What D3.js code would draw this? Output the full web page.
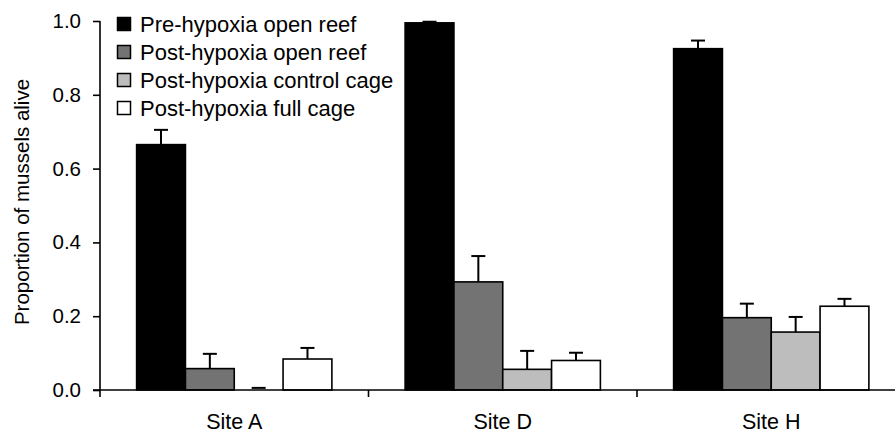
<!DOCTYPE html>
<html><head><meta charset="utf-8">
<script src="https://cdn.jsdelivr.net/npm/d3@7"></script>
<style>body{margin:0;background:#fff}svg{display:block}text{font-family:"Liberation Sans",Arial,sans-serif;fill:#000}</style>
</head><body>
<svg id="c" width="895" height="433"></svg>
<script>
const sites = ["Site A", "Site D", "Site H"];
const seriesNames = ["Pre-hypoxia open reef", "Post-hypoxia open reef", "Post-hypoxia control cage", "Post-hypoxia full cage"];
const seriesColors = ["#000000", "#737373", "#bdbdbd", "#ffffff"];
const preOpen = [0.665, 0.995, 0.925];
const preOpenErr = [0.04, 0.003, 0.022];
const postOpen = [0.058, 0.293, 0.196];
const postOpenErr = [0.040, 0.070, 0.038];
const postControl = [0.003, 0.056, 0.157];
const postControlErr = [0, 0.050, 0.041];
const postFull = [0.084, 0.080, 0.227];
const postFullErr = [0.030, 0.021, 0.020];
const yTicks = [0, 0.2, 0.4, 0.6, 0.8, 1.0];

const values = [preOpen, postOpen, postControl, postFull];
const errs = [preOpenErr, postOpenErr, postControlErr, postFullErr];

const svg = d3.select("#c");
const x0 = 100, yBase = 390;
const y = d3.scaleLinear().domain([0, 1]).range([yBase, 21]);
const x = d3.scaleBand().domain(sites).range([x0, 905.5]).padding(0);
const xs = d3.scaleBand().domain(d3.range(4)).range([0, x.bandwidth()]).paddingInner(0).paddingOuter(0.75);

// bars
const g = svg.append("g");
sites.forEach((s, i) => {
  values.forEach((vals, k) => {
    const bx = x(s) + xs(k), bw = xs.bandwidth();
    const v = vals[i], e = errs[k][i];
    const cx = bx + bw / 2;
    if (e > 0) {
      g.append("line").attr("x1", cx).attr("x2", cx).attr("y1", y(v)).attr("y2", y(v + e))
        .attr("stroke", "#000").attr("stroke-width", 2);
      g.append("line").attr("x1", cx - 7).attr("x2", cx + 7).attr("y1", y(v + e)).attr("y2", y(v + e))
        .attr("stroke", "#000").attr("stroke-width", 2);
    }
    if (v < 0.01) {
      g.append("line").attr("x1", cx - 7).attr("x2", cx + 7).attr("y1", y(v) - 1).attr("y2", y(v) - 1)
        .attr("stroke", "#000").attr("stroke-width", 2);
    } else {
      g.append("rect").attr("x", bx).attr("y", y(v)).attr("width", bw).attr("height", yBase - y(v))
        .attr("fill", seriesColors[k]).attr("stroke", "#000").attr("stroke-width", 1.6);
    }
  });
});

// y axis
const yAxis = d3.axisLeft(y).tickValues(yTicks).tickFormat(d3.format(".1f")).tickSize(7).tickPadding(12);
const ya = svg.append("g").attr("transform", `translate(${x0},0)`).call(yAxis);
ya.select(".domain").remove();
ya.selectAll(".tick line").attr("stroke", "#000").attr("stroke-width", 1.6);
ya.selectAll(".tick text").style("font-size", "20.5px").attr("fill", "#000");
svg.append("line").attr("x1", x0).attr("x2", x0).attr("y1", y(1)).attr("y2", yBase + 7)
  .attr("stroke", "#000").attr("stroke-width", 1.6);

// x axis
svg.append("line").attr("x1", x0 - 7).attr("x2", 895).attr("y1", yBase).attr("y2", yBase)
  .attr("stroke", "#000").attr("stroke-width", 1.6);
sites.forEach(s => {
  const bx = x(s) + x.bandwidth();
  svg.append("line").attr("x1", bx).attr("x2", bx).attr("y1", yBase).attr("y2", yBase + 7)
    .attr("stroke", "#000").attr("stroke-width", 1.6);
  svg.append("text").attr("x", x(s) + x.bandwidth() / 2).attr("y", 429)
    .attr("text-anchor", "middle").style("font-size", "21.5px").text(s);
});

// y title
svg.append("text").attr("transform", "translate(29,202) rotate(-90)")
  .attr("text-anchor", "middle").style("font-size", "20.5px").text("Proportion of mussels alive");

// legend
const lg = svg.append("g");
seriesNames.forEach((n, k) => {
  const cy = 24 + k * 28;
  lg.append("rect").attr("x", 117.5).attr("y", cy - 6.5).attr("width", 13).attr("height", 13)
    .attr("fill", seriesColors[k]).attr("stroke", "#000").attr("stroke-width", 1.5);
  lg.append("text").attr("x", 140).attr("y", cy).attr("dy", "0.36em").style("font-size", "22px").text(n);
});
</script>
</body></html>
